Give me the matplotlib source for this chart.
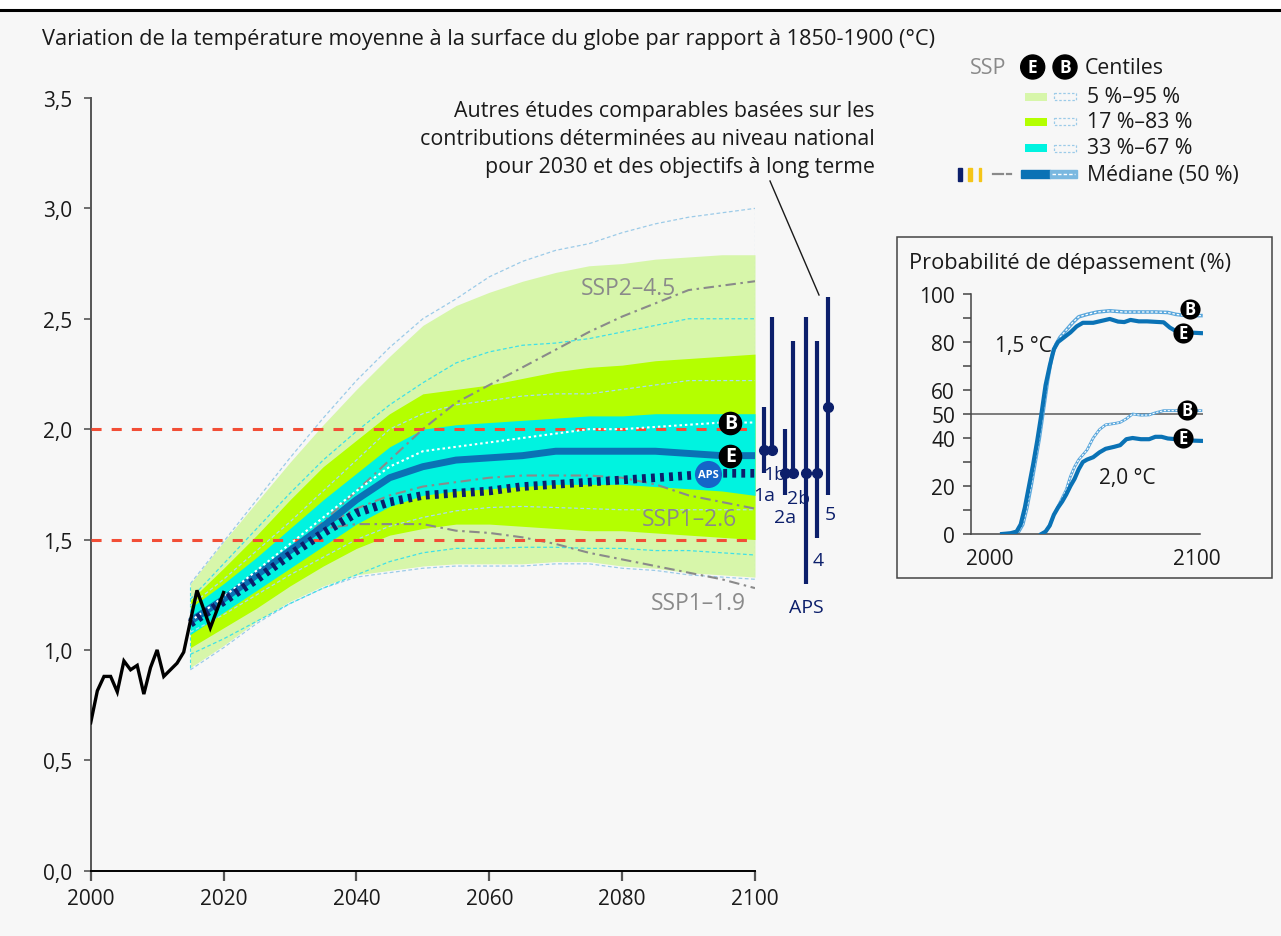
import matplotlib
matplotlib.use("Agg")
import matplotlib.pyplot as plt
import numpy as np
from matplotlib.patches import Rectangle, Circle

plt.rcParams['font.family'] = ['Open Sans', 'DejaVu Sans']

# observed warming
hist_years = list(range(2000, 2021))
hist_temp = [0.67, 0.815, 0.88, 0.88, 0.81, 0.95, 0.91, 0.93, 0.80, 0.92, 1.00,
             0.88, 0.91, 0.94, 0.99, 1.13, 1.27, 1.185, 1.10, 1.18, 1.26]

# projections (E = filled bands, B = dashed outlines)
proj_years = [2015, 2020, 2025, 2030, 2035, 2040, 2045, 2050, 2055, 2060,
              2065, 2070, 2075, 2080, 2085, 2090, 2095, 2100]
e_p05 = [0.92, 1.02, 1.13, 1.22, 1.29, 1.34, 1.36, 1.38, 1.39, 1.39, 1.39, 1.40, 1.40, 1.38, 1.37, 1.35, 1.34, 1.33]
e_p17 = [1.01, 1.10, 1.19, 1.29, 1.38, 1.46, 1.52, 1.55, 1.57, 1.57, 1.56, 1.55, 1.54, 1.54, 1.53, 1.52, 1.51, 1.50]
e_p33 = [1.07, 1.17, 1.27, 1.37, 1.47, 1.57, 1.65, 1.70, 1.72, 1.73, 1.74, 1.75, 1.75, 1.75, 1.74, 1.73, 1.72, 1.70]
e_p50 = [1.13, 1.23, 1.34, 1.45, 1.56, 1.68, 1.78, 1.83, 1.86, 1.87, 1.88, 1.90, 1.90, 1.90, 1.90, 1.89, 1.88, 1.88]
e_p67 = [1.19, 1.30, 1.42, 1.55, 1.68, 1.80, 1.92, 2.00, 2.02, 2.03, 2.04, 2.05, 2.06, 2.06, 2.07, 2.07, 2.07, 2.07]
e_p83 = [1.225, 1.37, 1.52, 1.68, 1.83, 1.95, 2.07, 2.16, 2.18, 2.20, 2.23, 2.26, 2.28, 2.29, 2.31, 2.32, 2.33, 2.34]
e_p95 = [1.30, 1.49, 1.67, 1.85, 2.02, 2.18, 2.33, 2.47, 2.56, 2.62, 2.67, 2.71, 2.74, 2.75, 2.77, 2.78, 2.79, 2.79]

b_p05 = [0.91, 1.01, 1.12, 1.21, 1.28, 1.33, 1.35, 1.37, 1.38, 1.38, 1.38, 1.39, 1.39, 1.37, 1.36, 1.34, 1.33, 1.32]
b_p17 = [0.98, 1.05, 1.13, 1.21, 1.28, 1.34, 1.40, 1.44, 1.46, 1.46, 1.465, 1.465, 1.46, 1.46, 1.45, 1.45, 1.44, 1.43]
b_p33 = [1.08, 1.16, 1.25, 1.34, 1.42, 1.50, 1.56, 1.60, 1.63, 1.645, 1.65, 1.645, 1.64, 1.635, 1.635, 1.635, 1.635, 1.635]
b_p50 = [1.13, 1.24, 1.36, 1.48, 1.60, 1.72, 1.83, 1.90, 1.92, 1.94, 1.96, 1.98, 2.00, 2.00, 2.01, 2.02, 2.03, 2.03]
b_p67 = [1.20, 1.32, 1.45, 1.58, 1.72, 1.86, 2.00, 2.07, 2.11, 2.13, 2.15, 2.16, 2.16, 2.18, 2.20, 2.22, 2.22, 2.22]
b_p83 = [1.23, 1.39, 1.55, 1.71, 1.86, 1.99, 2.11, 2.21, 2.30, 2.35, 2.38, 2.39, 2.41, 2.44, 2.47, 2.50, 2.50, 2.50]
b_p95 = [1.30, 1.49, 1.68, 1.87, 2.05, 2.22, 2.37, 2.50, 2.59, 2.69, 2.76, 2.81, 2.84, 2.89, 2.93, 2.96, 2.98, 3.00]

aps = [1.12, 1.22, 1.32, 1.43, 1.53, 1.62, 1.67, 1.70, 1.71, 1.72, 1.74, 1.75, 1.76, 1.77, 1.78, 1.79, 1.80, 1.80]

ssp245 = [1.13, 1.24, 1.35, 1.46, 1.58, 1.72, 1.86, 2.00, 2.12, 2.20, 2.28, 2.36, 2.44, 2.51, 2.57, 2.63, 2.65, 2.67]
ssp126 = [1.13, 1.24, 1.35, 1.46, 1.56, 1.64, 1.70, 1.74, 1.76, 1.78, 1.79, 1.79, 1.79, 1.78, 1.75, 1.70, 1.67, 1.64]
ssp119 = [1.13, 1.24, 1.35, 1.46, 1.55, 1.57, 1.57, 1.57, 1.54, 1.53, 1.51, 1.48, 1.44, 1.41, 1.38, 1.35, 1.32, 1.28]

# other studies: label, x position, low, high, central
study_labels = ['1a', '1b', '2a', '2b', 'APS', '4', '5']
study_x = [2101.35, 2102.6, 2104.55, 2105.75, 2107.7, 2109.3, 2110.95]
study_low = [1.80, 1.905, 1.70, 1.80, 1.30, 1.505, 1.70]
study_high = [2.10, 2.51, 2.00, 2.40, 2.51, 2.40, 2.60]
study_mid = [1.905, 1.905, 1.80, 1.80, 1.80, 1.80, 2.10]

# exceedance probability (%)
e15_years = [2006, 2010, 2013, 2015, 2017, 2019, 2021, 2023, 2025, 2027, 2029, 2031, 2033, 2036, 2039,
             2042, 2045, 2050, 2055, 2058, 2062, 2065, 2068, 2072, 2076, 2080, 2084, 2087, 2090, 2095, 2102]
e15_prob = [0, 0.3, 1, 4, 11, 20, 29, 39, 50, 62, 70, 77, 80, 82, 84,
            86.5, 88, 88, 89, 89.6, 88.5, 88.3, 89.2, 88.6, 88.6, 88.4, 88.2, 86, 84.5, 84, 83.7]
b15_years = [2007, 2011, 2014, 2016, 2018, 2020, 2022, 2024, 2026, 2028, 2030, 2032, 2034, 2037, 2040,
             2043, 2047, 2052, 2058, 2065, 2072, 2080, 2086, 2090, 2095, 2102]
b15_prob = [0, 0.3, 1, 4, 11, 20, 30, 40, 52, 64, 74, 79, 82, 85, 88,
            90.5, 91.5, 92.5, 93, 92.5, 92.5, 92.5, 92.3, 91.5, 91, 91]
e20_years = [2025, 2027, 2029, 2031, 2033, 2035, 2037, 2039, 2041, 2043, 2045, 2047, 2050, 2053,
             2056, 2060, 2063, 2066, 2069, 2073, 2077, 2080, 2083, 2086, 2090, 2095, 2102]
e20_prob = [0, 1, 3.5, 8, 11, 13.5, 16.5, 20, 23, 27, 30, 31, 32, 34,
            35.5, 36.3, 37, 39.5, 40, 39.5, 39.5, 40.5, 40.5, 39.8, 39.5, 39, 38.8]
b20_years = [2025, 2027, 2029, 2031, 2033, 2035, 2037, 2039, 2041, 2043, 2045, 2047, 2050, 2053,
             2056, 2060, 2063, 2066, 2069, 2073, 2077, 2080, 2084, 2090, 2096, 2102]
b20_prob = [0, 1, 3.5, 8, 11.5, 15, 18.5, 24, 28, 31, 33, 35, 40, 43.5,
            45.5, 46, 46.5, 48, 50, 49.5, 49.6, 50.5, 51.4, 51.4, 51.4, 51.4]

LIGHT_GREEN = '#d7f6aa'
GREEN = '#b4ff00'
CYAN = '#00f3e0'
BLUE = '#0a72b5'
NAVY = '#0c1f6b'
RED = '#f24e36'
GREY = '#8a8a8a'
PALE_BLUE = '#9ccbe8'
DASH_CYAN = '#3fe0e8'
BG = '#f7f7f7'
INK = '#1a1a1a'

W, H = 1281, 937
fig = plt.figure(figsize=(W / 100, H / 100), dpi=100, facecolor=BG)

# pixel-space layer for frame, legend and free text
ov = fig.add_axes([0, 0, 1, 1], zorder=5)
ov.set_xlim(0, W)
ov.set_ylim(H, 0)
ov.axis('off')
ov.patch.set_alpha(0)

bgax = fig.add_axes([0, 0, 1, 1], zorder=-5)
bgax.set_xlim(0, W)
bgax.set_ylim(H, 0)
bgax.axis('off')
bgax.add_patch(Rectangle((0, 0), W, 10, facecolor='white', edgecolor='none'))
bgax.plot([0, W], [10.5, 10.5], color='black', lw=2.2)

# ---------- main chart ----------
ax = fig.add_axes([90.7 / W, 1 - 871.7 / H, (755 - 90.7) / W, (871.7 - 99) / H])
ax.patch.set_alpha(0)
ax.set_xlim(2000, 2100)
ax.set_ylim(0, 3.5)

ax.fill_between(proj_years, e_p05, e_p95, color=LIGHT_GREEN, lw=0, zorder=1)
ax.fill_between(proj_years, e_p17, e_p83, color=GREEN, lw=0, zorder=1.1)
ax.fill_between(proj_years, e_p33, e_p67, color=CYAN, lw=0, zorder=1.2)
ax.vlines(2015, e_p05[0], e_p95[0], color=DASH_CYAN, lw=0.8, linestyles=(0, (3, 2)), zorder=2)
ax.vlines(2100, b_p05[-1], b_p95[-1], color=PALE_BLUE, lw=0.8, linestyles=(0, (2, 2)), zorder=2)

for vals, col in [(b_p05, PALE_BLUE), (b_p95, PALE_BLUE), (b_p17, DASH_CYAN), (b_p83, DASH_CYAN),
                  (b_p33, '#a9dcf2'), (b_p67, '#a9dcf2')]:
    ax.plot(proj_years, vals, color=col, lw=0.9, dashes=(3, 2), zorder=2)

for vals in [ssp245, ssp126, ssp119]:
    ax.plot(proj_years, vals, color=GREY, lw=1.5, dashes=(5, 2.2, 1.2, 2.2), zorder=3)

for lvl in [1.5, 2.0]:
    ax.plot([2000, 2100], [lvl, lvl], color=RED, lw=2.2, dashes=(3.3, 3.3), zorder=3.5)

ax.plot(proj_years, e_p50, color=BLUE, lw=5, solid_capstyle='butt', zorder=4)
ax.plot(proj_years, b_p50, color='white', lw=1.5, dashes=(1.2, 1.4), zorder=4.2)
ax.plot(proj_years, aps, color=NAVY, lw=6.2, dashes=(0.45, 0.6), zorder=4.5)
ax.plot(hist_years, hist_temp, color='black', lw=2.4, zorder=6, solid_joinstyle='miter')


def badge(axis, x, y, letter, size, fsize, color='black'):
    axis.plot([x], [y], 'o', ms=size, color=color, mec='none', zorder=7, clip_on=False)
    axis.text(x, y, letter, color='white', fontsize=fsize, fontweight='bold',
              ha='center', va='center', zorder=8, clip_on=False)


bx = 2096.3
badge(ax, bx, np.interp(bx, proj_years, b_p50), 'B', 17, 14)
badge(ax, bx, np.interp(bx, proj_years, e_p50), 'E', 17, 14)
ax_aps = 2093
badge(ax, ax_aps, np.interp(ax_aps, proj_years, aps), 'APS', 19.5, 8, color='#1565c8')

ax.text(2080.9, 2.64, 'SSP2–4.5', color=GREY, fontsize=16.5, ha='center', va='center', zorder=5)
ax.text(2090.2, 1.593, 'SSP1–2.6', color=GREY, fontsize=16.5, ha='center', va='center', zorder=5)
ax.text(2091.4, 1.212, 'SSP1–1.9', color=GREY, fontsize=16.5, ha='center', va='center', zorder=5)

# other studies
label_offsets = [(0, -9), (2, -11), (0, -9), (4, -11), (0, -10), (1, -9), (2, -7)]
for lab, x, lo, hi, mid, off in zip(study_labels, study_x, study_low, study_high, study_mid, label_offsets):
    ax.plot([x, x], [lo, hi], color=NAVY, lw=3, solid_capstyle='butt', clip_on=False, zorder=5)
    ax.plot([x], [mid], 'o', color=NAVY, ms=7, clip_on=False, zorder=5)
    ax.annotate(lab, (x, min(lo, mid)), xytext=off, textcoords='offset points',
                ha='center', va='top', color=NAVY, fontsize=14, annotation_clip=False)

ax.set_yticks(np.arange(0, 3.51, 0.5))
ax.set_yticklabels([f'{v:.1f}'.replace('.', ',') for v in np.arange(0, 3.51, 0.5)])
ax.set_xticks(range(2000, 2101, 20))
ax.tick_params(axis='y', length=5.3, width=1.2, color='#555555', pad=8, labelsize=15, labelcolor=INK)
ax.tick_params(axis='x', length=7.2, width=1.6, color='#555555', pad=5, labelsize=15, labelcolor=INK)
for s in ['top', 'right']:
    ax.spines[s].set_visible(False)
ax.spines['left'].set_color('#555555')
ax.spines['left'].set_linewidth(1.4)
ax.spines['bottom'].set_color('black')
ax.spines['bottom'].set_linewidth(1.4)

# ---------- inset: exceedance probability ----------
ov.add_patch(Rectangle((897, 238), 375, 341, facecolor='none', edgecolor='#444444', lw=1.1))
ov.text(909, 264, 'Probabilité de dépassement (%)', fontsize=15.7, color=INK, va='center', ha='left')

ins = fig.add_axes([971 / W, 1 - 535 / H, 232 / W, 240 / H])
ins.patch.set_alpha(0)
ins.set_xlim(1991, 2103)
ins.set_ylim(0, 100)
ins.axhline(50, color='#666666', lw=1.2, zorder=1)
ins.plot(b15_years, b15_prob, color='#5aa7dc', lw=2.6, zorder=2)
ins.plot(b15_years, b15_prob, color='white', lw=0.9, dashes=(2, 1.5), zorder=2.1)
ins.plot(b20_years, b20_prob, color='#5aa7dc', lw=2.0, zorder=2)
ins.plot(b20_years, b20_prob, color='white', lw=0.8, dashes=(2, 1.5), zorder=2.1)
ins.plot(e15_years, e15_prob, color=BLUE, lw=3, zorder=3)
ins.plot(e20_years, e20_prob, color=BLUE, lw=3, zorder=3)
ins.text(2016.1, 78.7, '1,5 °C', fontsize=15, ha='center', va='center', color=INK)
ins.text(2066.3, 23.7, '2,0 °C', fontsize=15, ha='center', va='center', color=INK)
badge(ins, 2096.7, 93.7, 'B', 14.5, 12)
badge(ins, 2093.4, 83.7, 'E', 14.5, 12)
badge(ins, 2095.3, 51.7, 'B', 14.5, 12)
badge(ins, 2093.4, 40, 'E', 14.5, 12)

ins.set_yticks([0, 20, 40, 50, 60, 80, 100])
ins.set_yticks([10, 30, 70, 90], minor=True)
ins.set_xticks([2000, 2100])
ins.tick_params(axis='y', which='both', length=5.5, width=1.1, color='#444444', pad=6, labelsize=15, labelcolor=INK)
ins.tick_params(axis='x', length=0, pad=10, labelsize=15, labelcolor=INK)
for s in ['top', 'right']:
    ins.spines[s].set_visible(False)
for s in ['left', 'bottom']:
    ins.spines[s].set_color('#444444')
    ins.spines[s].set_linewidth(1.1)
ins.spines['bottom'].set_bounds(1991, 2101.5)

# ---------- titles, notes, legend ----------
ov.text(42, 40, 'Variation de la température moyenne à la surface du globe par rapport à 1850-1900 (°C)',
        fontsize=15.7, color=INK, ha='left', va='center')

note = ['Autres études comparables basées sur les',
        'contributions déterminées au niveau national',
        'pour 2030 et des objectifs à long terme']
for i, line in enumerate(note):
    ov.text(875, 111 + 28.5 * i, line, fontsize=15.4, color=INK, ha='right', va='center')
ov.plot([770, 819], [182, 296], color=INK, lw=1)

ov.text(970, 68, 'SSP', fontsize=15.5, color=GREY, ha='left', va='center')
for cx, letter in [(1032.7, 'E'), (1065, 'B')]:
    ov.add_patch(Circle((cx, 68), 12, color='black'))
    ov.text(cx, 68, letter, color='white', fontsize=12.5, fontweight='bold', ha='center', va='center')
ov.text(1085, 68, 'Centiles', fontsize=15.3, color=INK, ha='left', va='center')

legend_rows = [('5 %–95 %', LIGHT_GREEN, 97.7), ('17 %–83 %', GREEN, 122.7), ('33 %–67 %', CYAN, 149)]
for text, col, yc in legend_rows:
    ov.add_patch(Rectangle((1025, yc - 4), 22, 8, facecolor=col, edgecolor='none'))
    ov.add_patch(Rectangle((1053.5, yc - 3.5), 22.5, 7, facecolor='none', edgecolor=PALE_BLUE,
                           lw=0.9, linestyle=(0, (2, 1.5))))
    ov.text(1087, yc, text, fontsize=15.3, color=INK, ha='left', va='center')

ym = 175
ov.add_patch(Rectangle((958.3, ym - 6.5), 4, 13, color=NAVY))
ov.add_patch(Rectangle((968.3, ym - 6.5), 4, 13, color='#f5c518'))
ov.add_patch(Rectangle((979.3, ym - 6.5), 1.6, 13, color='#f5c518'))
ov.plot([993, 1003], [ym, ym], color=GREY, lw=1.6)
ov.plot([1007, 1011], [ym, ym], color=GREY, lw=1.6)
ov.add_patch(Rectangle((1020.7, ym - 4), 29.3, 8, color=BLUE))
ov.add_patch(Rectangle((1050, ym - 4), 26.7, 8, color='#7ab8e0'))
ov.plot([1052, 1075], [ym, ym], color='white', lw=1, dashes=(2.5, 1.5))
ov.text(1087, ym, 'Médiane (50 %)', fontsize=15.3, color=INK, ha='left', va='center')

fig.savefig('out.png', dpi=100, facecolor=BG)
